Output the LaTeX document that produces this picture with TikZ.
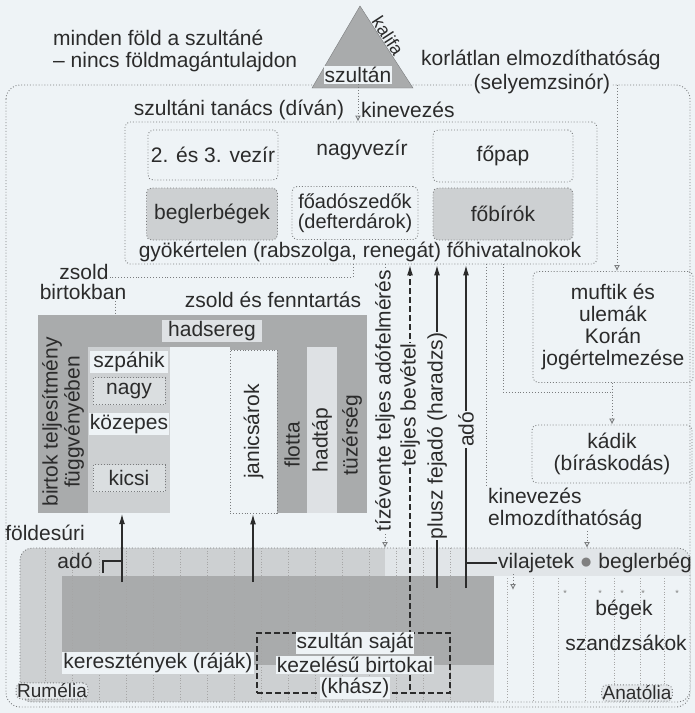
\documentclass[tikz,border=0pt]{standalone}
\usepackage{fontspec}
\setmainfont{Liberation Sans}
\usetikzlibrary{positioning,arrows.meta}
\definecolor{paper}{HTML}{EEF3F6}
\definecolor{ink}{HTML}{2B2B2B}
\definecolor{hatch}{HTML}{A9ABAC}
\definecolor{lighthatch}{HTML}{CDD0D2}
\definecolor{dotgray}{HTML}{7A7C7E}

\begin{document}
\begin{tikzpicture}[
    x=1pt, y=-1pt,
    >=latex,
    every node/.style={text=ink, inner sep=1pt, font=\fontsize{21}{22}\selectfont},
    dotline/.style={draw=dotgray, dotted, line width=0.9pt},
    dotarrow/.style={dotline, -{Latex[open,length=6pt,width=6pt]}},
    dotbox/.style={draw=dotgray, dotted, line width=0.9pt, rounded corners=5pt},
    tax/.style={draw=ink, line width=1.7pt, -{Latex[length=11pt,width=6pt]}},
    taxdash/.style={tax, dash pattern=on 6pt off 3pt},
    gridline/.style={draw=gray!70, dotted, line width=0.7pt},
    onpaper/.style={fill=paper},
    vert/.style={rotate=90, fill=paper}
]
\useasboundingbox (0,0) rectangle (695,713);
\fill[paper] (0,0) rectangle (695,713);

% Sultan
\draw[dotline, rounded corners=14pt] (6,85) rectangle (690,707);
\fill[hatch, draw=dotgray] (360,6) -- (413,88) -- (312,88) -- cycle;
\node[onpaper] (szultan) at (358,75) {szultán};
\node[rotate=-57, inner sep=0pt, font=\fontsize{18}{19}\selectfont] (kalifa) at (388,36) {kalifa};
\node[anchor=west, align=left] (fold) at (52,51) {minden föld a szultáné\\– nincs földmagántulajdon};
\node[anchor=west] (korlat) at (420,60) {korlátlan elmozdíthatóság};
\node[onpaper] (sely) at (542,84) {(selyemzsinór)};
\coordinate (selyend) at (617,85);

% Divan
\node[dotbox, minimum width=472pt, minimum height=142pt] (divan) at (361,193) {};
\node (tanacs) at (239,110) {szultáni tanács (díván)};
\node[anchor=west] (kinev1) at (360,110) {kinevezés};
\node[dotbox, minimum width=130pt, minimum height=50pt] (vezir) at (213,155) {2. és 3. vezír};
\node (nagyvezir) at (362,150) {nagyvezír};
\node[dotbox, minimum width=140pt, minimum height=52pt] (fopap) at (503,156) {főpap};
\node[dotbox, fill=lighthatch, minimum width=131pt, minimum height=52pt] (begler) at (212,214) {beglerbégek};
\node[dotbox, align=center, minimum width=126pt, minimum height=53pt, font=\fontsize{20}{20}\selectfont] (defter) at (355,213) {főadószedők\\(defterdárok)};
\node[dotbox, fill=lighthatch, minimum width=140pt, minimum height=52pt] (fobiro) at (503,214) {főbírók};
\node (gyok) at (360,252) {gyökértelen (rabszolga, renegát) főhivatalnokok};

% Muftik, kadik
\node[dotbox, align=center, minimum width=160pt, minimum height=111pt] (muftik) at (613,327) {muftik és\\ulemák\\Korán\\jogértelmezése};
\node[dotbox, align=center, minimum width=160pt, minimum height=58pt] (kadi) at (612,454) {kádik\\(bíráskodás)};
\node[anchor=north west, align=left] (kinev2) at (487,487) {kinevezés\\elmozdíthatóság};
\coordinate (kadijoin) at (612,392);
\coordinate (kadiline) at (503,392);
\coordinate (appline) at (486,487);
\coordinate (appdown) at (587,548);

% Army
\node (zsold) at (84,272) {zsold};
\node (birtokban) at (83,292) {birtokban};
\node (fenntart) at (273,300) {zsold és fenntartás};
\coordinate (zsoldline) at (353,277);
\coordinate (birtline) at (115,315);
\node[fill=hatch, minimum width=329pt, minimum height=198pt] (hadsereg) at (202.5,414) {};
\fill[lighthatch] (88,347) rectangle (170,513);
\fill[paper] (170,347) rectangle (230,513);
\fill[paper!50!lighthatch] (307,347) rectangle (337,513);
\node[fill=lighthatch!50!paper, inner xsep=6pt] (hadlabel) at (212,331) {hadsereg};
\node[rotate=90, align=center] (teljesit) at (63,422) {birtok teljesítmény\\függvényében};
\node[onpaper, minimum width=78pt] (szpahi) at (129,362) {szpáhik};
\node[dotbox, rounded corners=0pt, fill=paper!40!lighthatch, minimum width=72pt, minimum height=27pt] (nagy) at (129,391) {nagy};
\node[onpaper, minimum width=78pt] (kozep) at (129,424) {közepes};
\node[dotbox, rounded corners=0pt, fill=paper!40!lighthatch, minimum width=72pt, minimum height=27pt] (kicsi) at (129,478) {kicsi};
\node[dotbox, rounded corners=0pt, fill=paper, minimum width=47pt, minimum height=163pt] (janics) at (253.5,431.5) {};
\node[rotate=90] (janicstext) at (janics.center) {janicsárok};
\node[rotate=90] (flotta) at (292,445) {flotta};
\node[rotate=90] (hadtap) at (322,440) {hadtáp};
\node[rotate=90] (tuzer) at (352,435) {tüzérség};

% Lands
\begin{scope}
  \clip[rounded corners=12pt] (20,548) rectangle (690,702);
  \fill[paper!60!lighthatch] (20,548) rectangle (690,702);
  \fill[lighthatch] (20,548) rectangle (385,576);
  \fill[lighthatch] (20,576) rectangle (62,702);
  \fill[hatch] (62,576) rectangle (494,665);
  \fill[lighthatch] (62,665) rectangle (494,702);
  \fill[paper] (494,576) rectangle (690,702);
  \foreach \x in {45,72,...,475} \draw[gridline] (\x,548) -- (\x,702);
  \foreach \x in {507,533,558,585,614,640,664} \draw[gridline] (\x,578) -- (\x,702);
\end{scope}
\node[dotbox, rounded corners=12pt, minimum width=670pt, minimum height=154pt] (lands) at (355,625) {};
\node[onpaper] (keresz) at (158,663) {keresztények (ráják)};
\node[dotbox, fill=paper!70!lighthatch, font=\fontsize{19}{20}\selectfont] (rumelia) at (52,691) {Rumélia};
\node[draw=ink, dash pattern=on 6pt off 3pt, line width=1.6pt, minimum width=193pt, minimum height=60pt] (khasz) at (353.5,663) {};
\node[anchor=west] (vilajet) at (497,563) {vilajetek {\color{gray}●} beglerbég};
\node (begek) at (624,610) {bégek};
\node (szandzsak) at (626,643) {szandzsákok};
\node[dotbox, fill=paper!70!lighthatch, font=\fontsize{19}{20}\selectfont] (anatolia) at (637,693) {Anatólia};
\foreach \x in {565,600,622,643,677} \node[text=gray, font=\small] (ast\x) at (\x,593) {*};
\node (foldesuri) at (45,533) {földesúri};
\node (foldado) at (75,561) {adó};
\coordinate (foldsrc) at (122,582);
\coordinate (foldtick) at (103,573);
\coordinate (janicsrc) at (253,582);
\coordinate (felm) at (385,548);
\coordinate (bevsrc) at (410,690);
\coordinate (fejsrc) at (437,588);
\coordinate (adosrc) at (466,588);
\coordinate (viltip) at (513,590);

% Connections
\draw[dotarrow] (szultan.south) -- (szultan.south |- divan.north);
\draw[dotarrow] (selyend) -- (selyend |- muftik.north);
\draw[dotarrow] (muftik.south -| kadijoin) -- (kadi.north -| kadijoin);
\draw[dotline] (divan.south -| kadiline) -- (kadiline) -- (kadijoin);
\draw[dotline] (divan.south -| appline) -- (appline);
\draw[dotarrow] (kinev2.south -| appdown) -- (appdown);
\draw[dotline] (divan.south -| zsoldline) -- (zsoldline) -- (zsold.east |- zsoldline);
\draw[dotline] (birtokban.south -| birtline) -- (birtline);
\draw[dotarrow] (divan.south -| felm) -- node[vert, pos=0.48] (felmlabel) {tízévente teljes adófelmérés} (felm);
\draw[taxdash] (bevsrc) -- node[vert, pos=0.67] (bevlabel) {teljes bevétel} (bevsrc |- divan.south);
\draw[tax] (fejsrc) -- node[vert, pos=0.47] (fejlabel) {plusz fejadó (haradzs)} (fejsrc |- divan.south);
\draw[tax] (adosrc) -- node[vert, pos=0.49] (adolabel) {adó} (adosrc |- divan.south);
\draw[draw=ink, line width=1.7pt] (adosrc |- vilajet.west) -- (vilajet.west);
\draw[tax] (foldsrc) -- (foldsrc |- hadsereg.south);
\draw[tax] (janicsrc) -- (janicsrc |- janics.south);
\draw[draw=ink, line width=1.4pt] (foldtick) |- (foldsrc |- foldado);
\draw[dotarrow] (viltip |- vilajet.south) -- (viltip);
\node[onpaper] (khasz1) at (355,643) {szultán saját};
\node[onpaper] (khasz2) at (355,665) {kezelésű birtokai};
\node[onpaper] (khasz3) at (355,688) {(khász)};
\end{tikzpicture}
\end{document}
